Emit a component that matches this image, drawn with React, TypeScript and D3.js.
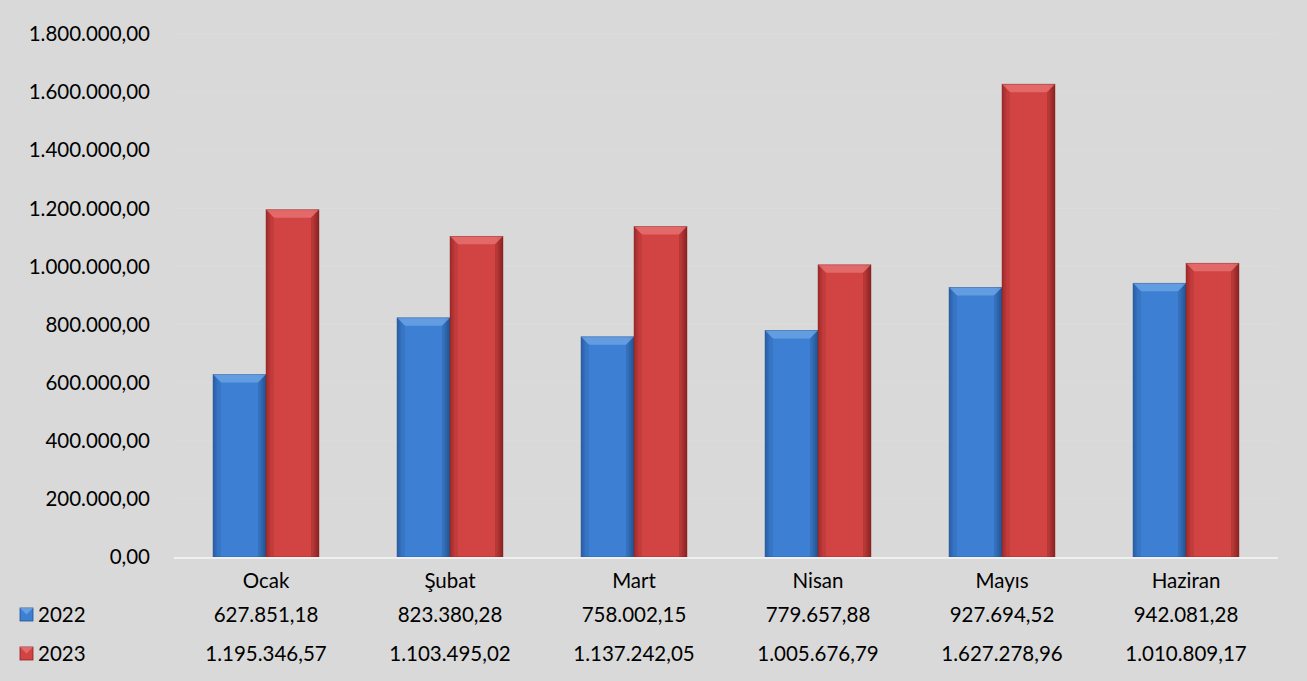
import React from "react";
import * as d3 from "d3";

const categories = ["Ocak", "Şubat", "Mart", "Nisan", "Mayıs", "Haziran"];
const seriesNames = ["2022", "2023"];
const values2022 = [627851.18, 823380.28, 758002.15, 779657.88, 927694.52, 942081.28];
const values2023 = [1195346.57, 1103495.02, 1137242.05, 1005676.79, 1627278.96, 1010809.17];
const yTicks = [0, 200000, 400000, 600000, 800000, 1000000, 1200000, 1400000, 1600000, 1800000];

const W = 1307, H = 681;
const plot = { left: 174, right: 1278, top: 34, bottom: 557 };

const fmt = (v: number) => {
  const [i, d] = v.toFixed(2).split(".");
  return i.replace(/\B(?=(\d{3})+(?!\d))/g, ".") + "," + d;
};

const colors = [
  { edge: "#2a5ea6", mid: "#3d80d3", light: "#6fa6e6", dark: "#24528f" },
  { edge: "#9e2b2b", mid: "#d24444", light: "#e87474", dark: "#8a2222" },
];

export default function App() {
  const x = d3.scaleBand<string>().domain(categories).range([plot.left, plot.right]).paddingInner(0).paddingOuter(0);
  const y = d3.scaleLinear().domain([0, 1800000]).range([plot.bottom, plot.top]);
  const groupPad = (x.bandwidth() - 106) / 2;
  const xs = d3.scaleBand<string>().domain(seriesNames).range([groupPad, x.bandwidth() - groupPad]);
  const series = [values2022, values2023];
  const font = "Lato, 'Open Sans', sans-serif";
  const fs = 20.5;

  return (
    <svg width={W} height={H} style={{ position: "absolute", left: 0, top: 0 }} fontFamily={font}>
      <defs>
        {colors.map((c, i) => (
          <linearGradient key={i} id={`g${i}`} x1="0" x2="1" y1="0" y2="0">
            <stop offset="0" stopColor={c.edge} />
            <stop offset="0.1" stopColor={c.mid} />
            <stop offset="0.88" stopColor={c.mid} />
            <stop offset="1" stopColor={c.dark} />
          </linearGradient>
        ))}
      </defs>
      <rect x={0} y={0} width={W} height={H} fill="#d9d9d9" />
      {yTicks.map((t) => (
        <g key={t}>
          {t > 0 && <line x1={plot.left} x2={plot.right} y1={y(t)} y2={y(t)} stroke="#dcdcdc" strokeWidth={1} />}
          <text x={150} y={y(t)} dy="0.35em" textAnchor="end" fontSize={fs} fill="#000">{fmt(t)}</text>
        </g>
      ))}
      {categories.map((cat, ci) =>
        series.map((vals, si) => {
          const bx = (x(cat) as number) + (xs(seriesNames[si]) as number);
          const bw = xs.bandwidth();
          const by = y(vals[ci]);
          const bh = plot.bottom - by;
          const c = colors[si];
          const bev = 8;
          return (
            <g key={`${ci}-${si}`}>
              <rect x={bx} y={by} width={bw} height={bh} fill={`url(#g${si})`} />
              <path d={`M${bx},${by}L${bx + bw},${by}L${bx + bw - bev},${by + bev}L${bx + bev},${by + bev}Z`} fill={c.light} opacity={0.75} />
              <path d={`M${bx},${by}L${bx + bev},${by + bev}L${bx + bev},${by + bh}L${bx},${by + bh}Z`} fill={c.edge} opacity={0.3} />
              <path d={`M${bx + bw},${by}L${bx + bw - bev},${by + bev}L${bx + bw - bev},${by + bh}L${bx + bw},${by + bh}Z`} fill={c.dark} opacity={0.35} />
              <rect x={bx} y={by} width={bw} height={bh} fill="none" stroke={c.dark} strokeOpacity={0.5} strokeWidth={0.8} />
            </g>
          );
        })
      )}
      <line x1={plot.left} x2={plot.right} y1={plot.bottom + 1} y2={plot.bottom + 1} stroke="#f0f0f0" strokeWidth={2} />
      {categories.map((cat) => (
        <text key={cat} x={(x(cat) as number) + x.bandwidth() / 2} y={581} dy="0.35em" textAnchor="middle" fontSize={fs}>{cat}</text>
      ))}
      {series.map((vals, si) => {
        const ry = si === 0 ? 615 : 654;
        const c = colors[si];
        return (
          <g key={si}>
            <rect x={20} y={ry - 7} width={13} height={13} fill={c.mid} stroke={c.dark} strokeWidth={0.8} />
            <path d={`M20,${ry - 7}L33,${ry - 7}L26.5,${ry - 0.5}Z`} fill={c.light} opacity={0.8} />
            <text x={38} y={ry} dy="0.35em" fontSize={fs}>{seriesNames[si]}</text>
            {vals.map((v, ci) => (
              <text key={ci} x={(x(categories[ci]) as number) + x.bandwidth() / 2} y={ry} dy="0.35em" textAnchor="middle" fontSize={fs}>{fmt(v)}</text>
            ))}
          </g>
        );
      })}
    </svg>
  );
}
